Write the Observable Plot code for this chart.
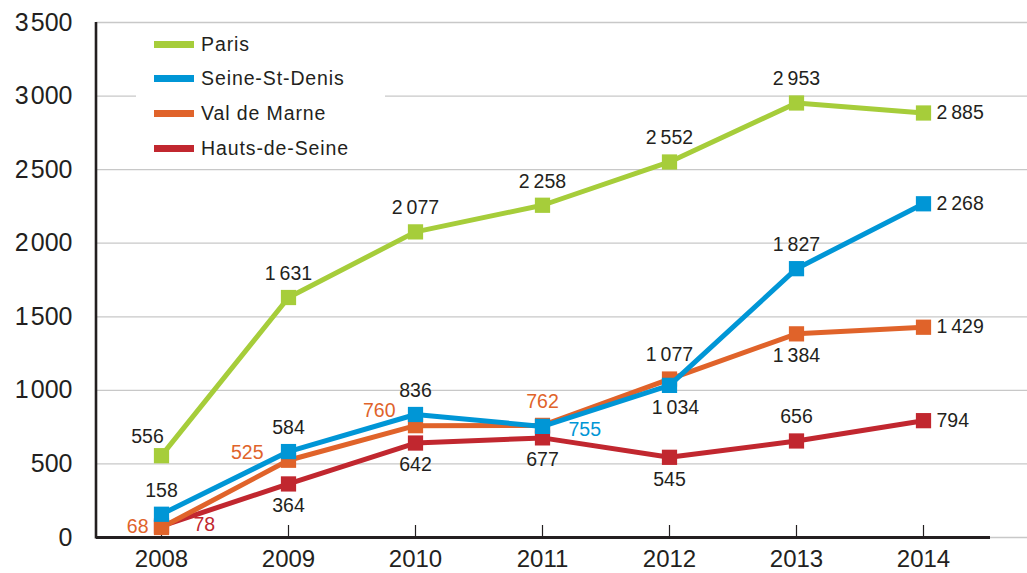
<!DOCTYPE html>
<html><head><meta charset="utf-8">
<script src="https://cdn.jsdelivr.net/npm/d3@7"></script>
<script src="https://cdn.jsdelivr.net/npm/@observablehq/plot@0.6"></script>
<style>
body{margin:0;background:#fff;}
#wrap{position:relative;width:1027px;height:573px;font-family:"Liberation Sans",Arial,sans-serif;}
#legend{position:absolute;left:136px;top:26px;width:249px;height:138px;background:#fff;}
.item{position:absolute;left:18px;height:24px;display:flex;align-items:center;font-size:19.5px;color:#231f20;letter-spacing:0.9px;white-space:nowrap}
.sw{width:40px;height:7px;margin-right:7px}
</style></head><body>
<div id="wrap"><div id="chart"></div><div id="legend"></div></div>
<script>
const years = [2008, 2009, 2010, 2011, 2012, 2013, 2014];
const seriesNames = ["Paris", "Seine-St-Denis", "Val de Marne", "Hauts-de-Seine"];
const seriesColors = ["#a6cd3a", "#0096d6", "#e0632a", "#c1272f"];
const paris = [556, 1631, 2077, 2258, 2552, 2953, 2885];
const seineStDenis = [158, 584, 836, 755, 1034, 1827, 2268];
const valDeMarne = [68, 525, 760, 762, 1077, 1384, 1429];
const hautsDeSeine = [78, 364, 642, 677, 545, 656, 794];
const yTicks = [0, 500, 1000, 1500, 2000, 2500, 3000, 3500];

// label placement codes (per point) and whether the label takes the series colour
const parisLabelPos = ["tl", "t", "t", "t", "t", "t", "r"];
const ssdLabelPos   = ["t", "t", "t", "rb", "bs", "t", "r"];
const vdmLabelPos   = ["l", "l2", "tl2", "t", "t", "b", "r"];
const hdsLabelPos   = ["rr", "b", "b", "b", "b", "t", "r"];
const parisLabelCol = [0,0,0,0,0,0,0];
const ssdLabelCol   = [0,0,0,1,0,0,0];
const vdmLabelCol   = [1,1,1,1,0,0,0];
const hdsLabelCol   = [1,0,0,0,0,0,0];

const placements = {
  t:   {dx: 0,   dy: -24, textAnchor: "middle"},
  tl:  {dx: -14, dy: -19, textAnchor: "middle"},
  b:   {dx: 0,   dy: 22,  textAnchor: "middle"},
  bs:  {dx: 6,   dy: 22,  textAnchor: "middle"},
  r:   {dx: 13,  dy: 0,   textAnchor: "start"},
  rr:  {dx: 32,  dy: -1,  textAnchor: "start"},
  rb:  {dx: 26,  dy: 3,   textAnchor: "start"},
  l:   {dx: -13, dy: -1,  textAnchor: "end"},
  l2:  {dx: -25, dy: -8,  textAnchor: "end"},
  tl2: {dx: -20, dy: -15, textAnchor: "end"}
};

const values = [paris, seineStDenis, valDeMarne, hautsDeSeine];
const labelPos = [parisLabelPos, ssdLabelPos, vdmLabelPos, hdsLabelPos];
const labelCol = [parisLabelCol, ssdLabelCol, vdmLabelCol, hdsLabelCol];

const rows = [];
seriesNames.forEach((s, si) => years.forEach((y, i) => rows.push({
  series: s, year: y, value: values[si][i], pos: labelPos[si][i],
  fill: labelCol[si][i] ? seriesColors[si] : "#231f20"
})));

const fmt = v => v >= 1000 ? String(v).replace(/\B(?=(\d{3})+$)/, "\u2009") : String(v);
const fmtY = v => v >= 1000 ? String(v).replace(/\B(?=(\d{3})+$)/, "\u200A") : String(v);

const W = 1027, H = 573, mL = 96, mT = 22, mB = 36;
const drawOrder = ["Hauts-de-Seine", "Val de Marne", "Seine-St-Denis", "Paris"];
const seriesMarks = drawOrder.flatMap(s => {
  const d = rows.filter(r => r.series === s);
  return [
    Plot.line(d, {x: "year", y: "value", stroke: "series", strokeWidth: 5, strokeLinejoin: "miter"}),
    Plot.dot(d, {x: "year", y: "value", fill: "series", symbol: "square", r: 8.6, stroke: null})
  ];
});
const labelMarks = Object.entries(placements).map(([code, p]) =>
  Plot.text(rows.filter(r => r.pos === code), {
    x: "year", y: "value", text: d => fmt(d.value), fill: "fill",
    dx: p.dx, dy: p.dy, textAnchor: p.textAnchor, fontSize: 19.5
  }));

const chart = Plot.plot({
  width: W, height: H,
  marginLeft: mL, marginRight: 0, marginTop: mT, marginBottom: mB,
  style: {fontFamily: "'Liberation Sans', Arial, sans-serif", color: "#231f20", background: "#fff"},
  x: {type: "point", domain: years, range: [160, 924], padding: 0, label: null},
  y: {domain: [0, 3500], label: null},
  color: {domain: seriesNames, range: seriesColors},
  marks: [
    Plot.gridY(yTicks, {stroke: "#c8c8c8", strokeOpacity: 1, strokeWidth: 1.3}),
    Plot.axisY(yTicks, {tickSize: 0, tickPadding: 24, fontSize: 25, tickFormat: fmtY, fill: "#231f20", label: null}),
    Plot.axisX(years, {tickSize: 0, tickPadding: 12, fontSize: 24, tickFormat: d => String(d), fill: "#231f20", label: null}),
    Plot.ruleX(years, {x: d => d, y1: () => 0, y2: () => 0, insetBottom: 12, stroke: "#231f20", strokeWidth: 1.2}),
    Plot.ruleY([0], {stroke: "#231f20", strokeWidth: 3, insetRight: 37}),
    ...seriesMarks,
    ...labelMarks
  ]
});
d3.select(chart).append("line")
  .attr("x1", mL).attr("x2", mL).attr("y1", mT).attr("y2", H - mB + 1.5)
  .attr("stroke", "#231f20").attr("stroke-width", 2.6);
document.getElementById("chart").appendChild(chart);

const legend = document.getElementById("legend");
seriesNames.forEach((s, i) => {
  const it = document.createElement("div");
  it.className = "item";
  it.style.top = (6 + i * 34.7) + "px";
  it.innerHTML = `<span class="sw" style="background:${seriesColors[i]}"></span><span>${s}</span>`;
  legend.appendChild(it);
});
</script>
</body></html>
